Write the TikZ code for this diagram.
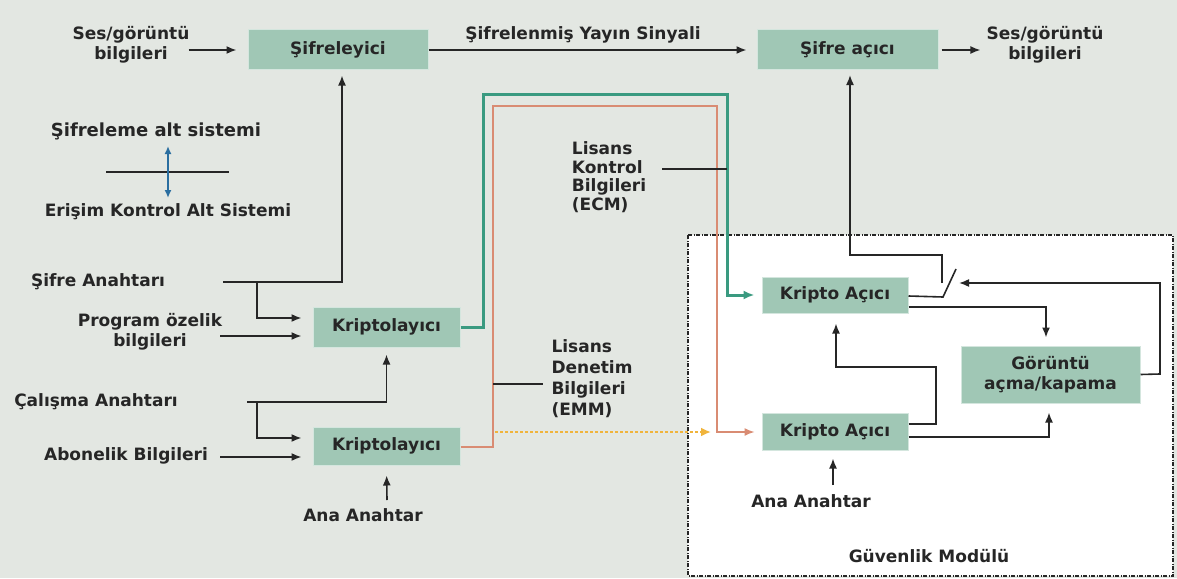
\documentclass[tikz,border=0pt]{standalone}
\usepackage{fontspec}
\setmainfont{DejaVu Sans}
\usetikzlibrary{arrows.meta,calc}
\definecolor{bgc}{HTML}{E3E7E2}
\definecolor{boxc}{HTML}{A0C7B5}
\definecolor{lc}{HTML}{262626}
\definecolor{tealc}{HTML}{3A9A80}
\definecolor{orc}{HTML}{D98C73}
\definecolor{yelc}{HTML}{F0B43C}
\definecolor{bluec}{HTML}{2A6EA0}
\newcommand\lbl{\fontsize{17}{20}\selectfont\bfseries}
\begin{document}
\begin{tikzpicture}[x=1pt,y=-1pt,
  every node/.style={font=\lbl, text=lc, inner sep=1pt},
  box/.style={fill=boxc, draw=white!55!boxc, line width=1pt, align=center},
  txt/.style={align=center},
  ln/.style={draw=lc, line width=1.6pt},
  arr/.style={ln, -{Latex[length=10pt,width=8pt]}},
  tealln/.style={draw=tealc, line width=3pt, -{Latex[length=11pt,width=9pt]}},
  orln/.style={draw=orc, line width=1.4pt, -{Latex[length=10pt,width=8pt]}},
  yelln/.style={draw=yelc, line width=2.6pt, dash pattern=on 2.5pt off 2.5pt, -{Latex[length=10pt,width=9pt]}}
]
\path[use as bounding box, fill=bgc] (0,0) rectangle (1177,578);
% security module
\draw[fill=white, draw=lc, line width=1.1pt, dash pattern=on 4pt off 1.5pt on 1pt off 1.5pt] (688,235) rectangle (1173,576);

% boxes
\node[box, minimum width=180pt, minimum height=39pt] (enc) at (338,49.5) {Şifreleyici};
\node[box, minimum width=181pt, minimum height=39pt] (dec) at (847.5,49.5) {Şifre açıcı};
\node[box, minimum width=147pt, minimum height=40pt] (kr1) at (386.5,327) {Kriptolayıcı};
\node[box, minimum width=147pt, minimum height=38pt] (kr2) at (386.5,446) {Kriptolayıcı};
\node[box, minimum width=146pt, minimum height=36pt] (ka1) at (835,295) {Kripto Açıcı};
\node[box, minimum width=146pt, minimum height=37pt] (ka2) at (835,431.5) {Kripto Açıcı};
\node[box, minimum width=179pt, minimum height=57pt] (gor) at (1050.5,374.5) {Görüntü\\açma/kapama};

% text labels
\node[txt] (sesL) at (131,45) {Ses/görüntü\\bilgileri};
\node[txt] (sesR) at (1045,45) {Ses/görüntü\\bilgileri};
\node (sinyal) at (583,35) {Şifrelenmiş Yayın Sinyali};
\node[font=\fontsize{18}{20}\selectfont\bfseries] (leg1) at (156,131) {Şifreleme alt sistemi};
\node (leg2) at (168,212) {Erişim Kontrol Alt Sistemi};
\node (sifA) at (98,282) {Şifre Anahtarı};
\node[txt] (prog) at (150,332) {Program özelik\\bilgileri};
\node (cal) at (96,402) {Çalışma Anahtarı};
\node (abo) at (126,456) {Abonelik Bilgileri};
\node (ana1) at (363,515) {Ana Anahtar};
\node (ana2) at (811,501) {Ana Anahtar};
\node (guv) at (929,556) {Güvenlik Modülü};
\node[align=left, font=\fontsize{17}{18.5}\selectfont\bfseries] (ecm) at (609,177) {Lisans\\Kontrol\\Bilgileri\\(ECM)};
\node[align=left, font=\fontsize{17}{21}\selectfont\bfseries] (emm) at (592,379) {Lisans\\Denetim\\Bilgileri\\(EMM)};

% coordinates
\coordinate (legL) at (106,172);
\coordinate (legR) at (229,172);
\coordinate (legT) at (168,146);
\coordinate (legB) at (168,198);
\coordinate (sA) at (223,282);
\coordinate (sAj) at (257,282);
\coordinate (pA) at (220,336);
\coordinate (cA) at (247,402);
\coordinate (cAj) at (257,402);
\coordinate (aA) at (220,457);
\coordinate (an1) at (387,500);
\coordinate (an2) at (833,485);
\coordinate (ecmL) at (662,169);
\coordinate (ecmR) at (727,169);
\coordinate (emmL) at (493,384);
\coordinate (emmR) at (543,384);
\coordinate (yS) at (495,432);
\coordinate (yE) at (711,432);
\coordinate (swB) at (943,297);
\coordinate (swT) at (956,269);
\coordinate (swC) at (942,283);
\coordinate (swA) at (959,283);

% legend
\draw[ln] (legL) -- (legR);
\draw[draw=bluec, line width=1.8pt, {Latex[length=8pt,width=7pt]}-{Latex[length=8pt,width=7pt]}] (legT) -- (legB);

% top row
\draw[arr, shorten >=11pt] ([xshift=-2pt]sesL.east |- 0,50) -- (enc.west |- 0,50);
\draw[arr, shorten >=10pt] (enc.east |- 0,50) -- (dec.west |- 0,50);
\draw[arr, shorten >=5pt] ([xshift=3pt]dec.east |- 0,50) -- (sesR.west |- 0,50);

% left inputs
\draw[arr, shorten >=6pt] (sA) -| ([xshift=4pt]enc.south);
\draw[arr, shorten >=11pt] (sAj) |- ([yshift=9pt]kr1.west);
\draw[arr, shorten >=11pt] (pA) -- ([yshift=-9pt]kr1.west);
\draw[arr, shorten >=7pt] (cA) -| (kr1.south);
\draw[arr, shorten >=11pt] (cAj) |- ([yshift=8pt]kr2.west);
\draw[arr, shorten >=11pt] (aA) -- ([yshift=-11pt]kr2.west);
\draw[arr, shorten >=10pt] (an1) -- (kr2.south);

% teal and orange lines
\draw[tealln, shorten >=7pt] (kr1.east) -- (483,327) -- (483,94) -- (727,94) -- (727,295) -- (ka1.west);
\draw[orln, shorten >=7pt] ([yshift=-1pt]kr2.east) -- (493,447) -- (493,106) -- (717,106) -- (717,432) -- ([yshift=-0.5pt]ka2.west);
\draw[ln, line width=1.3pt] (ecmL) -- (ecmR);
\draw[ln, line width=1.3pt] (emmL) -- (emmR);
\draw[yelln] (yS) -- (yE);

% security module internals
\draw[ln] ([yshift=-1pt]ka1.east) -- (swB) -- (swT);
\draw[arr, shorten >=6pt] (swC) |- (850,255) -- (850,69);
\draw[arr] (gor.east) -- (1160,374) |- (swA);
\draw[arr, shorten >=8pt] ([yshift=-12pt]ka1.east) -| ([xshift=-4.5pt]gor.north);
\draw[arr, shorten >=10pt] ([yshift=7.5pt]ka2.east) -- (936,424) |- (836,367) -- ([xshift=1pt]ka1.south);
\draw[arr, shorten >=9pt] ([yshift=-5.5pt]ka2.east) -| ([xshift=-1.5pt]gor.south);
\draw[arr, shorten >=8pt] (an2) -- ([xshift=-2pt]ka2.south);
\end{tikzpicture}
\end{document}
